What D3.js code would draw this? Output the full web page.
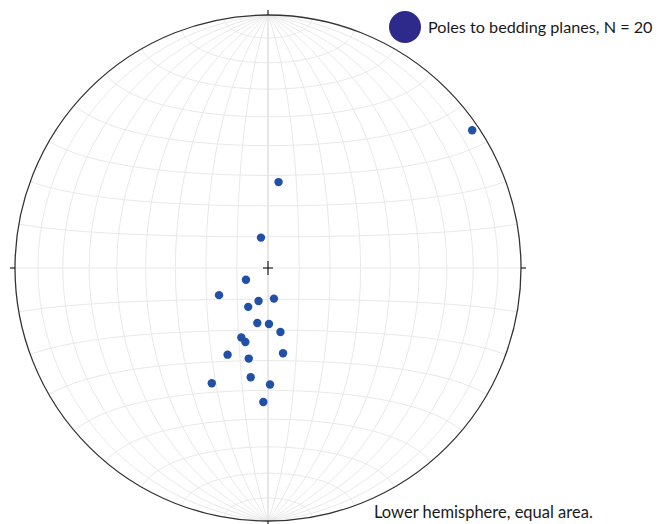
<!DOCTYPE html>
<html>
<head>
<meta charset="utf-8">
<script src="https://cdn.jsdelivr.net/npm/d3@7"></script>
<style>
  html, body { margin: 0; padding: 0; background: #fff; }
  svg { display: block; }
  text { font-family: Lato, "Open Sans", sans-serif; fill: #1a1a1a; }
</style>
</head>
<body>
<svg id="net" width="662" height="524"></svg>
<script>
// Poles to bedding planes: trend (azimuth, degrees) and plunge (degrees)
const poleTrend  = [7, 347, 242, 241, 196, 169, 207, 191, 179, 169,
                    201, 197, 205, 192, 170, 189, 206, 179, 182, 56];
const polePlunge = [62, 80, 82, 72, 79, 80, 76, 72, 72, 69,
                    66, 65, 59, 60, 62, 54, 48, 52, 46, 3];

const legendLabel = "Poles to bedding planes, N = 20";
const footLabel = "Lower hemisphere, equal area.";

const W = 662, H = 524;
const cx = 268, cy = 268, R = 253;

const svg = d3.select("#net");

// Schmidt (equal-area) net: equatorial azimuthal equal-area projection
const projection = d3.geoAzimuthalEqualArea()
  .rotate([0, 0])
  .clipAngle(90 - 1e-6)
  .scale(R / Math.SQRT2)
  .translate([cx, cy])
  .precision(0.2);

const path = d3.geoPath(projection);

// graticule every 10 degrees
const graticule = d3.geoGraticule()
  .step([10, 10])
  .extentMajor([[-180, -90 + 1e-6], [180, 90 - 1e-6]])
  .extentMinor([[-180, -90], [180, 90]]);

svg.append("path")
  .datum(graticule())
  .attr("d", path)
  .attr("fill", "none")
  .attr("stroke", "#e9e9e9")
  .attr("stroke-width", 1);

// central meridian, a touch darker
svg.append("path")
  .datum({type: "LineString", coordinates: [[0, -90], [0, 0], [0, 90]]})
  .attr("d", path)
  .attr("fill", "none")
  .attr("stroke", "#dcdcdc")
  .attr("stroke-width", 1);

// primitive circle
svg.append("circle")
  .attr("cx", cx).attr("cy", cy).attr("r", R)
  .attr("fill", "none")
  .attr("stroke", "#333")
  .attr("stroke-width", 1.3);

// cardinal ticks outside the primitive
const tickLen = 5;
[[0, -1], [1, 0], [0, 1], [-1, 0]].forEach(([ux, uy]) => {
  svg.append("line")
    .attr("x1", cx + ux * R).attr("y1", cy + uy * R)
    .attr("x2", cx + ux * (R + tickLen)).attr("y2", cy + uy * (R + tickLen))
    .attr("stroke", "#222").attr("stroke-width", 1.2);
});

// centre cross
svg.append("line")
  .attr("x1", cx - 5).attr("x2", cx + 5).attr("y1", cy).attr("y2", cy)
  .attr("stroke", "#222").attr("stroke-width", 1.2);
svg.append("line")
  .attr("x1", cx).attr("x2", cx).attr("y1", cy - 7).attr("y2", cy + 7)
  .attr("stroke", "#222").attr("stroke-width", 1.2);

// convert a lower-hemisphere line (trend, plunge) to lon/lat on the net
const rad = Math.PI / 180;
function toLonLat(trend, plunge) {
  const t = trend * rad, p = plunge * rad;
  const east = Math.sin(t) * Math.cos(p);
  const north = Math.cos(t) * Math.cos(p);
  const down = Math.sin(p);
  return [Math.atan2(east, down) / rad, Math.asin(north) / rad];
}

const poles = poleTrend.map((t, i) => toLonLat(t, polePlunge[i]));

svg.append("g")
  .selectAll("circle")
  .data(poles)
  .join("circle")
  .attr("cx", d => projection(d)[0])
  .attr("cy", d => projection(d)[1])
  .attr("r", 4.2)
  .attr("fill", "#2150a6");

// legend
svg.append("circle")
  .attr("cx", 405).attr("cy", 27).attr("r", 16)
  .attr("fill", "#2e2a8c");
svg.append("text")
  .attr("x", 428).attr("y", 33)
  .attr("font-size", 16.2)
  .text(legendLabel);

svg.append("text")
  .attr("x", 374).attr("y", 518)
  .attr("font-size", 16.5)
  .text(footLabel);
</script>
</body>
</html>
